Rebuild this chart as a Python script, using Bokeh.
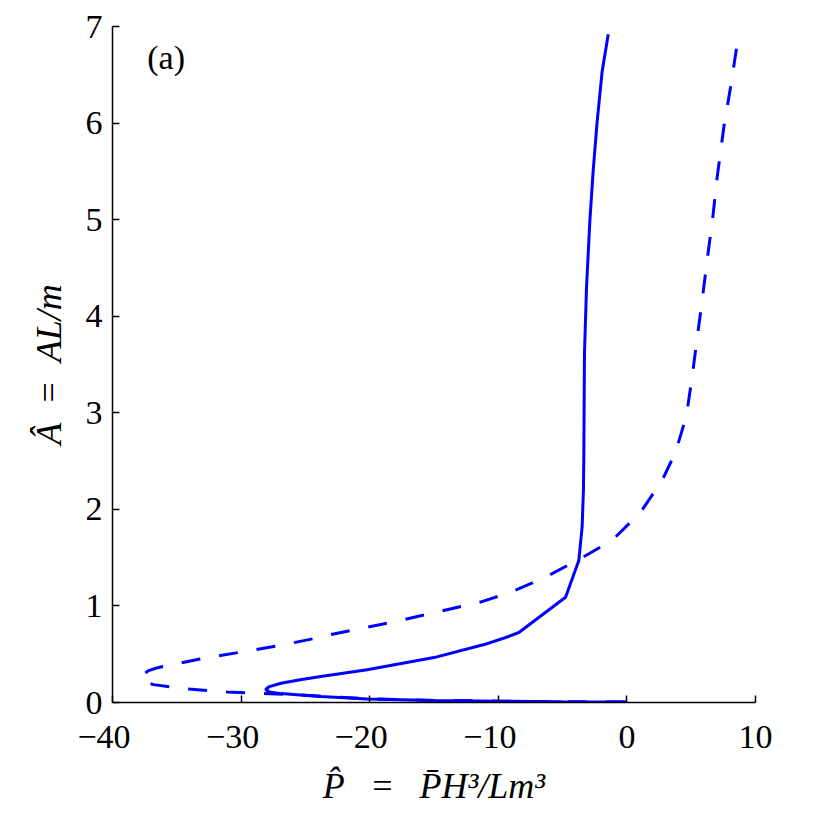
from bokeh.plotting import figure
from bokeh.models import Range1d, FixedTicker, Label
from bokeh.embed import file_html
from bokeh.resources import INLINE

# ---- data ----
solid_P = [0.0, -5.0, -9.8, -15.0, -20.2, -23.8, -25.4, -26.9, -27.8, -28.1,
           -27.8, -26.9, -25.4, -23.8, -20.2, -15.0, -11.1, -9.6, -8.4,
           -4.77, -3.74, -3.48, -3.38, -3.35, -3.30, -3.14, -2.88, -2.62,
           -2.31, -1.92, -1.45]
solid_A = [0.005, 0.008, 0.013, 0.021, 0.037, 0.062, 0.078, 0.092, 0.11, 0.135,
           0.165, 0.20, 0.235, 0.27, 0.34, 0.465, 0.60, 0.665, 0.725,
           1.09, 1.47, 1.82, 2.2, 2.54, 3.61, 4.30, 4.99, 5.51,
           6.02, 6.54, 6.92]

dashed_P = [8.52, 8.06, 7.54, 7.02, 6.71, 6.24, 5.85, 5.46, 5.07, 4.63,
            3.78, 2.74, 1.06, -1.14, -3.6, -6.3, -9.05, -11.4, -17.6, -22.8,
            -24.4, -27.0, -30.1, -33.2, -36.5, -37.2, -37.7, -37.8, -37.5,
            -36.8, -34.2, -31.1, -28.5, -25.0, -20.0, -15.0, -10.0, -5.0, 0.0]
dashed_A = [6.77, 6.37, 5.96, 5.44, 5.06, 4.58, 4.16, 3.77, 3.37, 2.97,
            2.59, 2.30, 1.97, 1.68, 1.49, 1.30, 1.14, 1.04, 0.85, 0.71,
            0.66, 0.59, 0.52, 0.45, 0.36, 0.33, 0.28, 0.245, 0.21,
            0.185, 0.14, 0.11, 0.095, 0.075, 0.037, 0.022, 0.014, 0.009, 0.006]

x_ticks = [-40, -30, -20, -10, 0, 10]
x_tick_labels = ["\u221240", "\u221230", "\u221220", "\u221210", "0", "10"]
y_ticks = [0, 1, 2, 3, 4, 5, 6, 7]

FONT = "Liberation Serif"
BLUE = "#0000ff"

p = figure(width=798, height=814, output_backend="svg", toolbar_location=None,
           x_range=Range1d(-40, 10), y_range=Range1d(0, 7),
           min_border_left=112, min_border_top=26, min_border_right=43,
           min_border_bottom=112)
p.outline_line_color = None
p.grid.visible = False
p.background_fill_color = "white"
p.border_fill_color = "white"

p.line(solid_P, solid_A, line_color=BLUE, line_width=3)
p.line(dashed_P, dashed_A, line_color=BLUE, line_width=3, line_dash="19 19")

for ax in (p.xaxis[0], p.yaxis[0]):
    ax.axis_line_color = "black"
    ax.axis_line_width = 1.5
    ax.major_tick_line_color = "black"
    ax.major_tick_line_width = 1.5
    ax.major_tick_in = 7
    ax.major_tick_out = 0
    ax.minor_tick_line_color = None
    ax.major_label_text_font = FONT
    ax.major_label_text_font_size = "34px"
    ax.major_label_text_color = "black"
    ax.axis_label_text_font = FONT
    ax.axis_label_text_font_size = "36px"
    ax.axis_label_text_font_style = "italic"
    ax.axis_label_text_color = "black"

# negative labels: digits centred on the tick, minus sign hanging to the left
p.xaxis.ticker = FixedTicker(ticks=x_ticks)
p.xaxis.major_label_overrides = {
    t: (s + "\u2002" if s.startswith("\u2212") else s)
    for t, s in zip(x_ticks, x_tick_labels)}
p.yaxis.ticker = FixedTicker(ticks=y_ticks)
p.xaxis.major_label_standoff = 15
p.yaxis.major_label_standoff = 10
p.xaxis.axis_label = "P\u0302\u2002\u2009=\u2002\u2009P\u0304H\u00b3/Lm\u00b3"
p.yaxis.axis_label = "\u00c2\u2002=\u2002AL/m"
p.xaxis.axis_label_standoff = 8
p.yaxis.axis_label_standoff = 14

p.add_layout(Label(x=-37.3, y=6.68, text="(a)", text_font=FONT,
                   text_font_size="34px", text_baseline="middle",
                   text_align="left", text_color="black"))

open("out.html", "w").write(file_html(p, INLINE))
